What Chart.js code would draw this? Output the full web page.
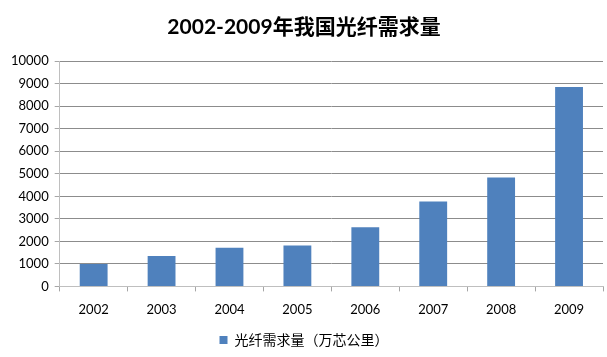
<!DOCTYPE html>
<html><head><meta charset="utf-8">
<script src="https://cdn.jsdelivr.net/npm/chart.js@4/dist/chart.umd.min.js"></script>
<style>html,body{margin:0;padding:0;background:#fff}#wrap{width:607px;height:357px}</style>
</head><body><div id="wrap"><canvas id="c" width="607" height="357"></canvas></div>
<script>
const categories = ['2002','2003','2004','2005','2006','2007','2008','2009'];
const demand = [1000, 1350, 1720, 1820, 2630, 3770, 4840, 8850];
const yTicks = [0,1000,2000,3000,4000,5000,6000,7000,8000,9000,10000];
const seriesName = '光纤需求量（万芯公里）';
const titleText = '2002-2009年我国光纤需求量';

const tickFont = {family: "Lato, 'Noto Sans CJK SC', sans-serif", size: 13};
new Chart(document.getElementById('c'), {
  type: 'bar',
  data: {labels: categories, datasets: [{label: seriesName, data: demand,
    backgroundColor: '#4f81bd', borderColor: '#4f81bd', borderWidth: 0,
    barPercentage: 0.41, categoryPercentage: 1}]},
  options: {
    responsive: false, animation: false,
    layout: {padding: {left: 5, right: 4, top: 6, bottom: 0}},
    plugins: {
      title: {display: true, text: titleText, color: '#000',
        font: {family: "Lato, 'Noto Sans CJK SC', sans-serif", size: 21, weight: 'bold'},
        padding: {top: 9, bottom: 21}},
      legend: {position: 'bottom', labels: {boxWidth: 8, boxHeight: 8, color: '#000',
        font: {family: "'Noto Sans CJK SC', sans-serif", size: 14}, padding: 4}},
      tooltip: {enabled: false}
    },
    scales: {
      x: {grid: {offset: true, drawOnChartArea: false, drawTicks: true, tickLength: 5, color: '#a6a6a6'},
        border: {color: '#bfbfbf', width: 1},
        ticks: {color: '#000', font: tickFont, padding: 11}},
      y: {min: 0, max: 10000,
        afterBuildTicks: s => { s.ticks = yTicks.map(v => ({value: v})); },
        grid: {color: '#8c8c8c', tickLength: 5, tickColor: '#a6a6a6'},
        border: {color: '#bfbfbf', width: 1},
        ticks: {color: '#000', font: tickFont, padding: 6, callback: v => String(v)}}
    }
  }
});
</script></body></html>
